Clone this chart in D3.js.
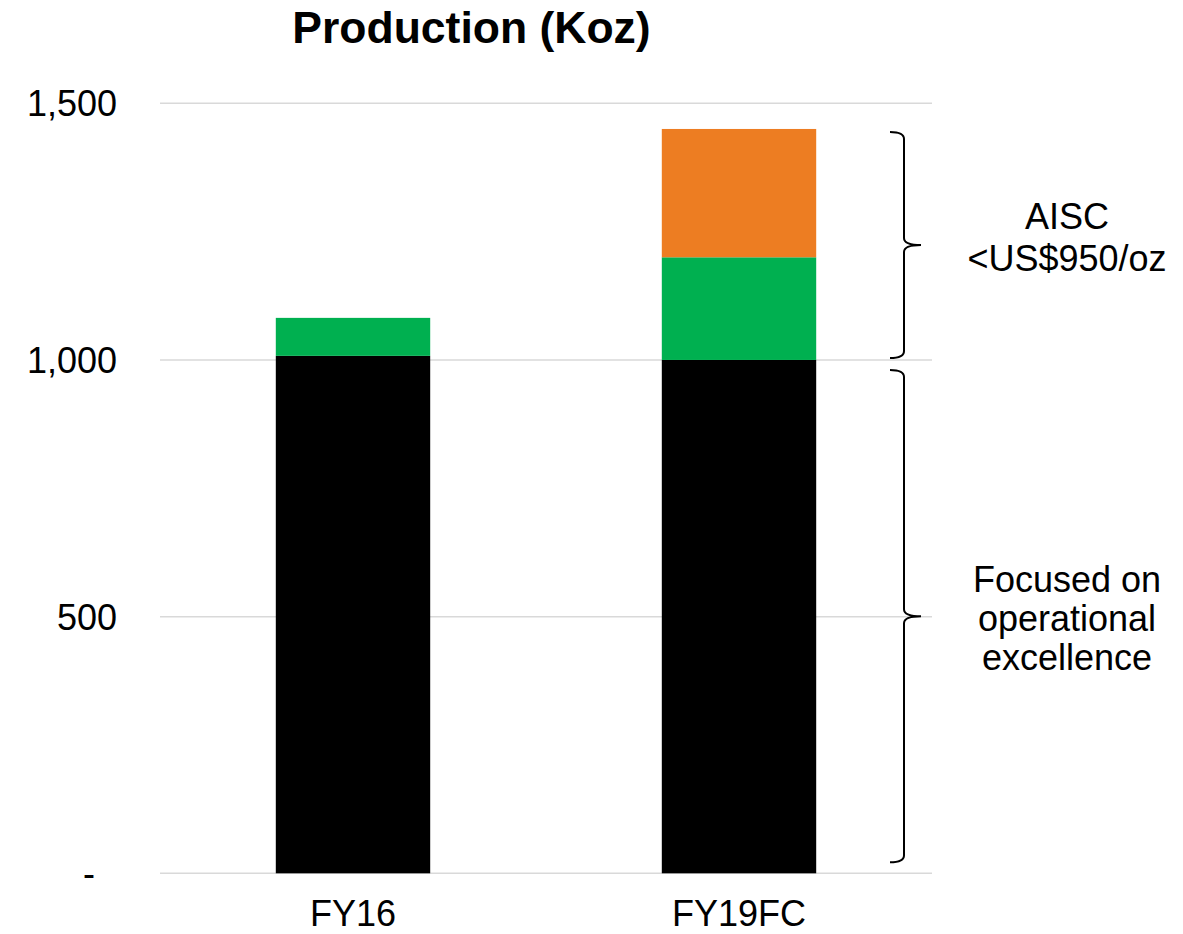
<!DOCTYPE html>
<html>
<head>
<meta charset="utf-8">
<script src="https://cdn.jsdelivr.net/npm/d3@7"></script>
<style>
  html, body { margin: 0; padding: 0; background: #fff; }
  svg text { font-family: "Liberation Sans", Arial, sans-serif; fill: #000; }
</style>
</head>
<body>
<svg id="chart" width="1183" height="934"></svg>
<script>
// Production by period (Koz), stacked
const categories = ["FY16", "FY19FC"];
const seriesNames = ["Base", "Growth", "New"];
const baseValues = [1008, 1000];
const growthValues = [74, 200];
const newValues = [0, 250];
const seriesColors = ["#000000", "#00B050", "#ED7D22"];
const yTicks = [0, 500, 1000, 1500];
const yTickLabels = ["-", "500", "1,000", "1,500"];
const titleText = "Production (Koz)";
const upperNote = ["AISC", "<US$950/oz"];
const lowerNote = ["Focused on", "operational", "excellence"];

const svg = d3.select("#chart");
const margin = { left: 160, right: 251, top: 103.3, bottom: 60.7 };
const W = 1183, H = 934;

const x = d3.scaleBand()
  .domain(categories)
  .range([margin.left, W - margin.right])
  .paddingInner(0.6)
  .paddingOuter(0.3);

const y = d3.scaleLinear()
  .domain([0, 1500])
  .range([H - margin.bottom, margin.top]);

// Gridlines
svg.append("g")
  .selectAll("line")
  .data(yTicks)
  .join("line")
  .attr("x1", margin.left)
  .attr("x2", W - margin.right)
  .attr("y1", d => y(d))
  .attr("y2", d => y(d))
  .attr("stroke", "#d9d9d9")
  .attr("stroke-width", 1.5);

// Stacked bars
const rows = categories.map((c, i) => ({
  cat: c, Base: baseValues[i], Growth: growthValues[i], New: newValues[i]
}));
const stack = d3.stack().keys(seriesNames)(rows);

svg.append("g")
  .selectAll("g")
  .data(stack)
  .join("g")
  .attr("fill", (d, i) => seriesColors[i])
  .selectAll("rect")
  .data(d => d.filter(s => s[1] > s[0]))
  .join("rect")
  .attr("x", d => x(d.data.cat))
  .attr("width", x.bandwidth())
  .attr("y", d => y(d[1]))
  .attr("height", d => y(d[0]) - y(d[1]));

// Y axis labels
const yAxis = d3.axisLeft(y)
  .tickValues(yTicks)
  .tickFormat((d, i) => yTickLabels[i])
  .tickSize(0)
  .tickPadding(0);
const yg = svg.append("g")
  .attr("transform", `translate(${margin.left - 43},0)`)
  .call(yAxis);
yg.select(".domain").remove();
yg.selectAll("text")
  .attr("font-size", 36)
  .attr("font-family", "Liberation Sans, Arial, sans-serif")
  .attr("fill", "#000")
  .attr("dy", "0.35em")
  .attr("dx", d => d === 0 ? -22 : 0);

// X axis labels
const xAxis = d3.axisBottom(x).tickSize(0).tickPadding(0);
const xg = svg.append("g")
  .attr("transform", `translate(0,${H - margin.bottom})`)
  .call(xAxis);
xg.select(".domain").remove();
xg.selectAll("text")
  .attr("font-size", 36)
  .attr("font-family", "Liberation Sans, Arial, sans-serif")
  .attr("fill", "#000")
  .attr("dy", null)
  .attr("y", 53);

// Title
svg.append("text")
  .attr("x", 471.5)
  .attr("y", 43)
  .attr("text-anchor", "middle")
  .attr("font-size", 44.5)
  .attr("font-weight", "bold")
  .text(titleText);

// Right-hand braces
function bracePath(top, bottom, xl, xv, xt, r) {
  const mid = (top + bottom) / 2;
  return `M${xl},${top} Q${xv},${top} ${xv},${top + r} L${xv},${mid - r} ` +
         `Q${xv},${mid} ${xt},${mid} Q${xv},${mid} ${xv},${mid + r} ` +
         `L${xv},${bottom - r} Q${xv},${bottom} ${xl},${bottom}`;
}
const braceX = { left: 890, line: 904, tip: 921 };
const braces = [
  { top: y(1450) + 3, bottom: y(1000) - 2 },
  { top: y(1000) + 10, bottom: y(0) - 11 }
];
svg.append("g")
  .selectAll("path")
  .data(braces)
  .join("path")
  .attr("d", d => bracePath(d.top, d.bottom, braceX.left, braceX.line, braceX.tip, 7))
  .attr("fill", "none")
  .attr("stroke", "#000")
  .attr("stroke-width", 2);

// Notes beside braces
function note(lines, baseline, gap) {
  svg.append("text")
    .attr("text-anchor", "middle")
    .attr("font-size", 36)
    .selectAll("tspan")
    .data(lines)
    .join("tspan")
    .attr("x", 1067)
    .attr("y", (d, i) => baseline + i * gap)
    .text(d => d);
}
note(upperNote, 229, 41.5);
note(lowerNote, 592, 39);
</script>
</body>
</html>
